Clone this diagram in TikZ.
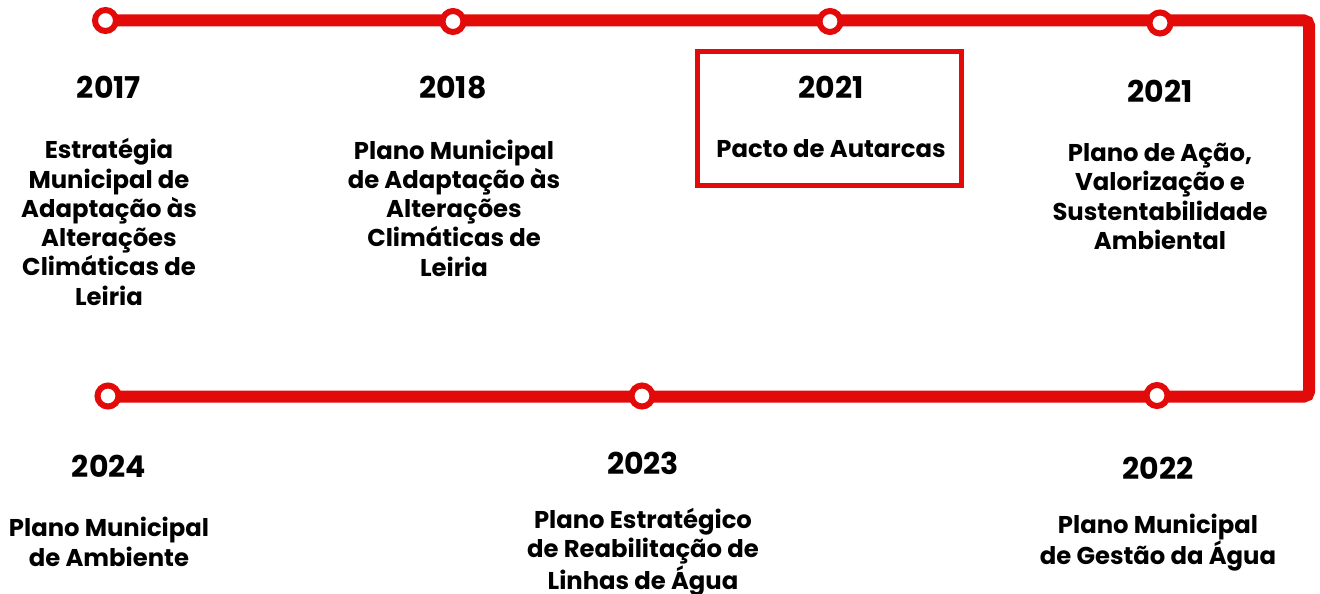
\documentclass[tikz,border=0pt]{standalone}
\usepackage{fontspec}
\setmainfont{Poppins}[UprightFont=* Bold]
\definecolor{tred}{HTML}{E30A0A}
\begin{document}
\begin{tikzpicture}[x=1pt,y=-1pt,
  track/.style={draw=tred,line width=12pt,rounded corners=5pt,line cap=round},
  stop/.style={circle,draw=tred,fill=white,line width=6pt,minimum size=21pt,inner sep=0pt},
  year/.style={font=\fontsize{30}{32}\selectfont,inner sep=0pt},
  label/.style={font=\fontsize{24.3}{29.3}\selectfont,align=center,inner sep=0pt},
  hbox/.style={draw=tred,line width=5pt}]
\useasboundingbox (0,0) rectangle (1320,594);
% track
\coordinate (tl) at (105,20.5);
\coordinate (tr) at (1309,20.5);
\coordinate (br) at (1309,396.5);
\coordinate (bl) at (108,396.5);
\draw[track] (tl) -- (tr) -- (br) -- (bl);
% highlight box
\node[hbox,minimum width=264pt,minimum height=133pt,inner sep=0pt] (box) at (829,118.5) {};
% stops
\node[stop] (s1) at (105.5,20.5) {};
\node[stop] (s2) at (453,21.5) {};
\node[stop] (s3) at (830,21.5) {};
\node[stop] (s4) at (1160,23) {};
\node[stop] (s5) at (108,396) {};
\node[stop] (s6) at (642,396) {};
\node[stop] (s7) at (1157,395.5) {};
% years
\node[year] (y1) at (109,87) {2017};
\node[year] (y2) at (453,88) {2018};
\node[year] (y3) at (831,87) {2021};
\node[year] (y4) at (1160,91) {2021};
\node[year] (y5) at (109,466) {2024};
\node[year] (y6) at (643,463) {2023};
\node[year] (y7) at (1158,468) {2022};
% labels
\node[label] (t1) at (109,222) {Estratégia\\Municipal de\\Adaptação às\\Alterações\\Climáticas de\\Leiria};
\node[label] (t2) at (454,208) {Plano Municipal\\de Adaptação às\\Alterações\\Climáticas de\\Leiria};
\node[label] (t3) at (831,149) {Pacto de Autarcas};
\node[label] (t4) at (1160,196.5) {Plano de Ação,\\Valorização e\\Sustentabilidade\\Ambiental};
\node[label] (t5) at (109,542) {Plano Municipal\\de Ambiente};
\node[label] (t6) at (643,552) {Plano Estratégico\\de Reabilitação de\\Linhas de Água};
\node[label] (t7) at (1158,543) {Plano Municipal\\de Gestão da Água};
\end{tikzpicture}
\end{document}
